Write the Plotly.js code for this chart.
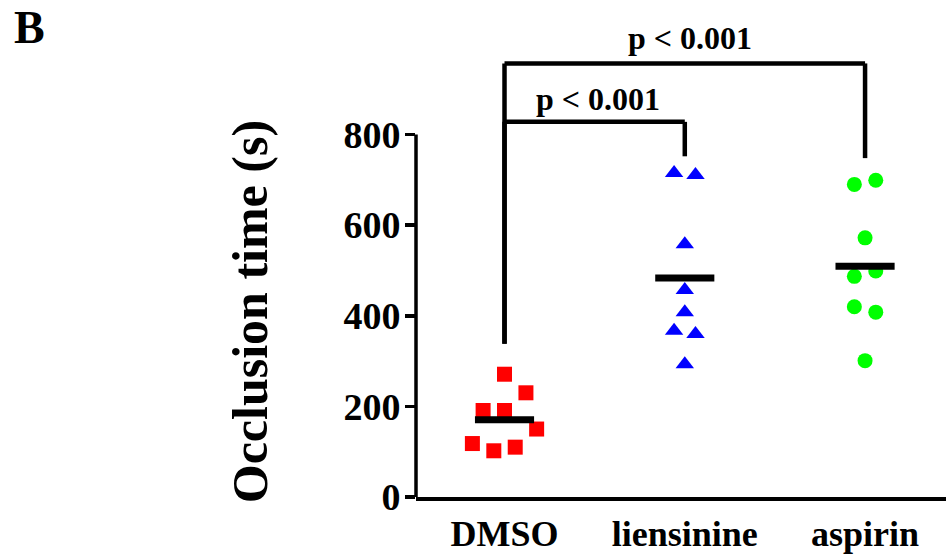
<!DOCTYPE html>
<html>
<head>
<meta charset="utf-8">
<script src="https://cdn.plot.ly/plotly-3.0.1.min.js"></script>
<style>html,body{margin:0;padding:0;background:#fff;}#chart{width:946px;height:558px;}</style>
</head>
<body>
<div id="chart"></div>
<script>
// ---- data ----
const categories = ['DMSO', 'liensinine', 'aspirin'];
const dmsoValues = [271, 230, 191, 191, 150, 118, 102, 110];
const liensinineValues = [715, 711, 558, 457, 408, 367, 360, 293];
const aspirinValues = [690, 699, 572, 487, 499, 420, 408, 301];
// horizontal scatter slots (beeswarm spreading) for each point
const dmsoSlots = [0, 2, -2, 0, 3, -3, -1, 1];
const liensinineSlots = [-1, 1, 0, 0, 0, -1, 1, 0];
const aspirinSlots = [-1, 1, 0, -1, 1, -1, 1, 0];
const yTicks = [0, 200, 400, 600, 800];
const yTitle = 'Occlusion time (s)';
const pLabels = ['p < 0.001', 'p < 0.001'];

// ---- styling ----
const FONT = 'Liberation Serif, Times New Roman, serif';
const slotStep = 0.0594;
const meanHalfWidth = 0.164;

const groups = [
  {vals: dmsoValues, slots: dmsoSlots, color: '#ff0000', symbol: 'square', size: 15},
  {vals: liensinineValues, slots: liensinineSlots, color: '#0000ff', symbol: 'triangle-up', size: 16},
  {vals: aspirinValues, slots: aspirinSlots, color: '#00ff00', symbol: 'circle', size: 15}
];

const traces = [];
groups.forEach((g, i) => {
  traces.push({
    type: 'scatter', mode: 'markers', name: categories[i],
    x: g.slots.map(s => i + s * slotStep), y: g.vals,
    marker: {symbol: g.symbol, size: g.size, color: g.color, line: {width: 0}},
    showlegend: false, hoverinfo: 'y'
  });
});
groups.forEach((g, i) => {
  const m = g.vals.reduce((a, b) => a + b, 0) / g.vals.length;
  traces.push({
    type: 'scatter', mode: 'lines', name: categories[i] + ' mean',
    x: [i - meanHalfWidth, i + meanHalfWidth], y: [m, m],
    line: {color: '#000', width: 7}, showlegend: false, hoverinfo: 'skip'
  });
});

// significance brackets: [from group, to group, bar height, left foot, right foot]
const brackets = [
  [0, 2, 957, 338, 748],
  [0, 1, 828, 338, 752]
];
const shapes = [];
const bl = {color: '#000', width: 4.5};
brackets.forEach(b => {
  shapes.push({type: 'line', xref: 'x', yref: 'y', x0: b[0], x1: b[1], y0: b[2], y1: b[2], line: bl});
  shapes.push({type: 'line', xref: 'x', yref: 'y', x0: b[0], x1: b[0], y0: b[3], y1: b[2], line: bl});
  shapes.push({type: 'line', xref: 'x', yref: 'y', x0: b[1], x1: b[1], y0: b[4], y1: b[2], line: bl});
});
// y axis line spanning the tick range only
shapes.push({type: 'line', xref: 'paper', yref: 'y', x0: 0, x1: 0, y0: 0, y1: yTicks[yTicks.length - 1],
  line: {color: '#000', width: 3.5}});

const annotations = [
  {xref: 'x', yref: 'y', x: 1.029, y: 1014, text: pLabels[0], showarrow: false,
   xanchor: 'center', yanchor: 'middle', font: {family: FONT, size: 32, weight: 700, color: '#000'}},
  {xref: 'x', yref: 'y', x: 0.516, y: 878, text: pLabels[1], showarrow: false,
   xanchor: 'center', yanchor: 'middle', font: {family: FONT, size: 32, weight: 700, color: '#000'}},
  {xref: 'paper', yref: 'paper', x: -0.762, y: 1, text: 'B', showarrow: false,
   xanchor: 'left', yanchor: 'top', font: {family: FONT, size: 46, weight: 700, color: '#000'}},
  {xref: 'paper', yref: 'paper', x: -0.313, y: 0.372, text: yTitle, showarrow: false, textangle: -90,
   xanchor: 'center', yanchor: 'middle', font: {family: FONT, size: 50, weight: 700, color: '#000'}}
];

const layout = {
  width: 946, height: 558,
  margin: {l: 416, r: 0, t: 0, b: 61, pad: 0},
  paper_bgcolor: '#fff', plot_bgcolor: '#fff',
  showlegend: false,
  xaxis: {
    range: [-0.491, 2.449], tickvals: [0, 1, 2], ticktext: categories,
    showline: true, linewidth: 4, linecolor: '#000', ticks: '', showgrid: false, zeroline: false,
    ticklabelstandoff: 2,
    tickfont: {family: FONT, size: 36, weight: 700, color: '#000'}, fixedrange: true
  },
  yaxis: {
    range: [0, 1097], tickvals: yTicks, ticktext: yTicks.map(String),
    ticks: 'outside', ticklen: 10, tickwidth: 3.5, tickcolor: '#000',
    showline: false, showgrid: false, zeroline: false,
    ticklabelstandoff: -3,
    tickfont: {family: FONT, size: 38, weight: 700, color: '#000'}, fixedrange: true
  },
  shapes: shapes,
  annotations: annotations
};

Plotly.newPlot('chart', traces, layout, {displayModeBar: false, staticPlot: true});
</script>
</body>
</html>
